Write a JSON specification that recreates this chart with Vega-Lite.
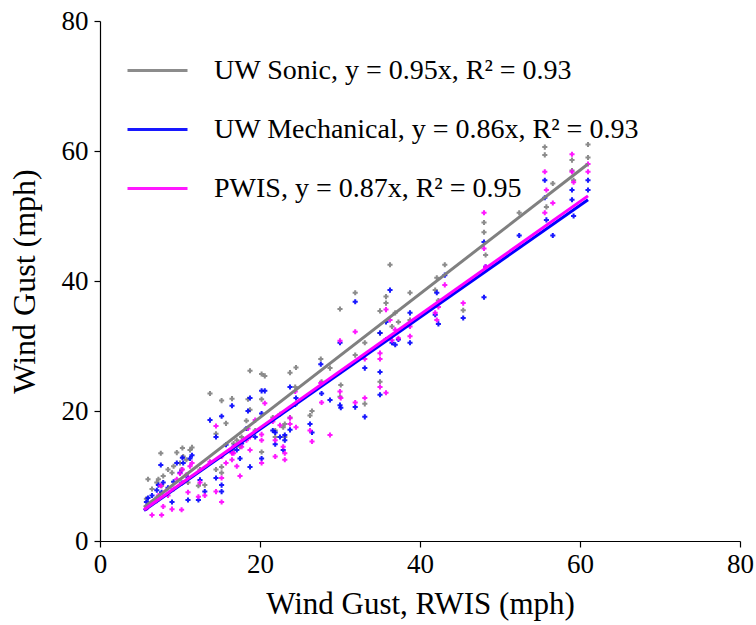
{
"$schema": "https://vega.github.io/schema/vega-lite/v6.json",
"width": 640, "height": 520,
"autosize": {"type": "none"},
"padding": {"left": 100, "top": 21, "right": 16, "bottom": 84},
"config": {
 "font": "Liberation Serif",
 "view": {"stroke": null}
},
"datasets": {
"points": [
{"series":"Sonic","x":5.8,"y":6.5},{"series":"Sonic","x":6.0,"y":9.5},{"series":"Sonic","x":6.5,"y":8.0},{"series":"Sonic","x":7.1,"y":9.0},{"series":"Sonic","x":7.3,"y":9.5},{"series":"Sonic","x":7.6,"y":13.5},{"series":"Sonic","x":7.7,"y":8.5},{"series":"Sonic","x":7.9,"y":10.0},{"series":"Sonic","x":8.5,"y":11.0},{"series":"Sonic","x":9.0,"y":10.5},{"series":"Sonic","x":9.2,"y":11.5},{"series":"Sonic","x":9.6,"y":13.6},{"series":"Sonic","x":10.0,"y":12.0},{"series":"Sonic","x":10.2,"y":11.0},{"series":"Sonic","x":10.3,"y":14.3},{"series":"Sonic","x":10.4,"y":13.0},{"series":"Sonic","x":10.8,"y":12.5},{"series":"Sonic","x":11.0,"y":9.0},{"series":"Sonic","x":11.25,"y":14.0},{"series":"Sonic","x":11.5,"y":14.4},{"series":"Sonic","x":12.3,"y":8.5},{"series":"Sonic","x":12.5,"y":11.0},{"series":"Sonic","x":13.1,"y":8.6},{"series":"Sonic","x":13.75,"y":22.7},{"series":"Sonic","x":14.5,"y":11.0},{"series":"Sonic","x":14.5,"y":16.5},{"series":"Sonic","x":15.2,"y":21.6},{"series":"Sonic","x":15.2,"y":11.4},{"series":"Sonic","x":15.2,"y":10.5},{"series":"Sonic","x":15.75,"y":18.1},{"series":"Sonic","x":16.5,"y":21.9},{"series":"Sonic","x":16.5,"y":14.0},{"series":"Sonic","x":16.7,"y":15.0},{"series":"Sonic","x":17.1,"y":15.5},{"series":"Sonic","x":17.5,"y":14.5},{"series":"Sonic","x":17.7,"y":16.0},{"series":"Sonic","x":18.3,"y":18.5},{"series":"Sonic","x":18.5,"y":21.8},{"series":"Sonic","x":18.75,"y":26.2},{"series":"Sonic","x":18.75,"y":20.2},{"series":"Sonic","x":19.4,"y":17.0},{"series":"Sonic","x":20.2,"y":25.7},{"series":"Sonic","x":20.2,"y":21.8},{"series":"Sonic","x":20.2,"y":13.7},{"series":"Sonic","x":20.6,"y":25.4},{"series":"Sonic","x":21.6,"y":19.0},{"series":"Sonic","x":21.9,"y":17.0},{"series":"Sonic","x":21.9,"y":16.0},{"series":"Sonic","x":22.5,"y":19.5},{"series":"Sonic","x":22.9,"y":17.5},{"series":"Sonic","x":23.1,"y":18.0},{"series":"Sonic","x":23.1,"y":16.0},{"series":"Sonic","x":23.75,"y":25.9},{"series":"Sonic","x":23.75,"y":19.0},{"series":"Sonic","x":24.4,"y":23.7},{"series":"Sonic","x":24.5,"y":26.7},{"series":"Sonic","x":26.25,"y":19.3},{"series":"Sonic","x":26.5,"y":20.0},{"series":"Sonic","x":27.6,"y":28.0},{"series":"Sonic","x":27.7,"y":24.5},{"series":"Sonic","x":28.75,"y":26.6},{"series":"Sonic","x":30.0,"y":35.7},{"series":"Sonic","x":30.0,"y":22.2},{"series":"Sonic","x":30.1,"y":24.0},{"series":"Sonic","x":31.9,"y":38.2},{"series":"Sonic","x":31.9,"y":28.6},{"series":"Sonic","x":33.1,"y":30.5},{"series":"Sonic","x":33.1,"y":21.1},{"series":"Sonic","x":35.0,"y":35.4},{"series":"Sonic","x":35.0,"y":32.0},{"series":"Sonic","x":35.0,"y":24.5},{"series":"Sonic","x":35.75,"y":37.6},{"series":"Sonic","x":35.75,"y":36.6},{"series":"Sonic","x":36.25,"y":42.5},{"series":"Sonic","x":36.5,"y":33.0},{"series":"Sonic","x":36.9,"y":35.1},{"series":"Sonic","x":37.3,"y":33.7},{"series":"Sonic","x":38.75,"y":38.2},{"series":"Sonic","x":38.75,"y":34.0},{"series":"Sonic","x":41.9,"y":38.6},{"series":"Sonic","x":42.1,"y":40.5},{"series":"Sonic","x":42.3,"y":37.0},{"series":"Sonic","x":43.1,"y":42.5},{"series":"Sonic","x":45.4,"y":35.5},{"series":"Sonic","x":48.0,"y":49.0},{"series":"Sonic","x":48.0,"y":47.5},{"series":"Sonic","x":48.2,"y":44.0},{"series":"Sonic","x":52.4,"y":50.5},{"series":"Sonic","x":55.6,"y":60.6},{"series":"Sonic","x":55.6,"y":59.4},{"series":"Sonic","x":55.8,"y":51.4},{"series":"Sonic","x":56.6,"y":55.0},{"series":"Sonic","x":59.0,"y":58.6},{"series":"Sonic","x":59.0,"y":57.0},{"series":"Sonic","x":59.2,"y":55.5},{"series":"Sonic","x":61.0,"y":61.0},{"series":"Sonic","x":61.0,"y":59.0},
{"series":"Mechanical","x":5.8,"y":6.0},{"series":"Mechanical","x":6.0,"y":6.6},{"series":"Mechanical","x":6.5,"y":7.0},{"series":"Mechanical","x":7.1,"y":7.8},{"series":"Mechanical","x":7.3,"y":8.6},{"series":"Mechanical","x":7.6,"y":11.7},{"series":"Mechanical","x":7.7,"y":7.5},{"series":"Mechanical","x":7.9,"y":9.0},{"series":"Mechanical","x":8.5,"y":8.2},{"series":"Mechanical","x":9.0,"y":6.0},{"series":"Mechanical","x":9.2,"y":9.1},{"series":"Mechanical","x":9.6,"y":12.0},{"series":"Mechanical","x":10.0,"y":10.5},{"series":"Mechanical","x":10.2,"y":8.9},{"series":"Mechanical","x":10.3,"y":12.8},{"series":"Mechanical","x":10.4,"y":12.0},{"series":"Mechanical","x":10.8,"y":10.0},{"series":"Mechanical","x":11.0,"y":6.3},{"series":"Mechanical","x":11.25,"y":12.7},{"series":"Mechanical","x":11.5,"y":13.2},{"series":"Mechanical","x":12.3,"y":6.3},{"series":"Mechanical","x":12.5,"y":9.4},{"series":"Mechanical","x":13.1,"y":7.6},{"series":"Mechanical","x":13.75,"y":18.6},{"series":"Mechanical","x":14.5,"y":9.7},{"series":"Mechanical","x":14.5,"y":16.0},{"series":"Mechanical","x":15.2,"y":19.2},{"series":"Mechanical","x":15.2,"y":8.6},{"series":"Mechanical","x":15.2,"y":7.6},{"series":"Mechanical","x":15.75,"y":14.8},{"series":"Mechanical","x":16.5,"y":20.8},{"series":"Mechanical","x":16.5,"y":13.7},{"series":"Mechanical","x":16.7,"y":14.5},{"series":"Mechanical","x":17.1,"y":14.0},{"series":"Mechanical","x":17.5,"y":12.7},{"series":"Mechanical","x":17.7,"y":15.0},{"series":"Mechanical","x":18.3,"y":17.3},{"series":"Mechanical","x":18.5,"y":20.0},{"series":"Mechanical","x":18.75,"y":22.0},{"series":"Mechanical","x":18.75,"y":11.4},{"series":"Mechanical","x":19.4,"y":16.0},{"series":"Mechanical","x":20.2,"y":23.1},{"series":"Mechanical","x":20.2,"y":19.6},{"series":"Mechanical","x":20.2,"y":12.7},{"series":"Mechanical","x":20.6,"y":23.1},{"series":"Mechanical","x":21.6,"y":17.0},{"series":"Mechanical","x":21.9,"y":16.7},{"series":"Mechanical","x":21.9,"y":14.9},{"series":"Mechanical","x":22.5,"y":16.0},{"series":"Mechanical","x":22.9,"y":14.0},{"series":"Mechanical","x":23.1,"y":16.3},{"series":"Mechanical","x":23.1,"y":15.5},{"series":"Mechanical","x":23.75,"y":23.7},{"series":"Mechanical","x":23.75,"y":17.1},{"series":"Mechanical","x":24.4,"y":21.0},{"series":"Mechanical","x":24.5,"y":22.0},{"series":"Mechanical","x":26.25,"y":18.0},{"series":"Mechanical","x":26.5,"y":16.7},{"series":"Mechanical","x":27.6,"y":27.2},{"series":"Mechanical","x":27.7,"y":22.7},{"series":"Mechanical","x":28.75,"y":21.7},{"series":"Mechanical","x":30.0,"y":30.5},{"series":"Mechanical","x":30.0,"y":20.9},{"series":"Mechanical","x":30.1,"y":20.5},{"series":"Mechanical","x":31.9,"y":36.8},{"series":"Mechanical","x":31.9,"y":20.6},{"series":"Mechanical","x":33.1,"y":26.6},{"series":"Mechanical","x":33.1,"y":19.1},{"series":"Mechanical","x":35.0,"y":32.0},{"series":"Mechanical","x":35.0,"y":22.5},{"series":"Mechanical","x":35.0,"y":26.0},{"series":"Mechanical","x":35.75,"y":33.7},{"series":"Mechanical","x":35.75,"y":31.0},{"series":"Mechanical","x":36.25,"y":38.6},{"series":"Mechanical","x":36.5,"y":30.5},{"series":"Mechanical","x":36.9,"y":30.2},{"series":"Mechanical","x":37.3,"y":31.0},{"series":"Mechanical","x":38.75,"y":35.1},{"series":"Mechanical","x":38.75,"y":30.5},{"series":"Mechanical","x":41.9,"y":34.8},{"series":"Mechanical","x":42.1,"y":38.2},{"series":"Mechanical","x":42.3,"y":33.4},{"series":"Mechanical","x":43.1,"y":40.9},{"series":"Mechanical","x":45.4,"y":34.3},{"series":"Mechanical","x":48.0,"y":46.0},{"series":"Mechanical","x":48.0,"y":37.5},{"series":"Mechanical","x":48.2,"y":42.2},{"series":"Mechanical","x":52.4,"y":47.0},{"series":"Mechanical","x":55.6,"y":55.5},{"series":"Mechanical","x":55.6,"y":52.8},{"series":"Mechanical","x":55.8,"y":49.4},{"series":"Mechanical","x":56.6,"y":47.0},{"series":"Mechanical","x":59.0,"y":54.0},{"series":"Mechanical","x":59.0,"y":52.5},{"series":"Mechanical","x":59.2,"y":50.0},{"series":"Mechanical","x":61.0,"y":55.5},{"series":"Mechanical","x":61.0,"y":54.0},
{"series":"PWIS","x":5.8,"y":5.0},{"series":"PWIS","x":6.0,"y":5.5},{"series":"PWIS","x":6.5,"y":4.0},{"series":"PWIS","x":7.1,"y":6.2},{"series":"PWIS","x":7.3,"y":7.0},{"series":"PWIS","x":7.6,"y":8.5},{"series":"PWIS","x":7.7,"y":4.0},{"series":"PWIS","x":7.9,"y":5.3},{"series":"PWIS","x":8.5,"y":7.0},{"series":"PWIS","x":9.0,"y":4.9},{"series":"PWIS","x":9.2,"y":8.0},{"series":"PWIS","x":9.6,"y":9.5},{"series":"PWIS","x":10.0,"y":10.4},{"series":"PWIS","x":10.2,"y":4.8},{"series":"PWIS","x":10.3,"y":11.0},{"series":"PWIS","x":10.4,"y":9.0},{"series":"PWIS","x":10.8,"y":10.2},{"series":"PWIS","x":11.0,"y":7.5},{"series":"PWIS","x":11.25,"y":11.5},{"series":"PWIS","x":11.5,"y":12.0},{"series":"PWIS","x":12.3,"y":6.8},{"series":"PWIS","x":12.5,"y":9.0},{"series":"PWIS","x":13.1,"y":7.0},{"series":"PWIS","x":13.75,"y":12.2},{"series":"PWIS","x":14.5,"y":7.6},{"series":"PWIS","x":14.5,"y":17.7},{"series":"PWIS","x":15.2,"y":13.0},{"series":"PWIS","x":15.2,"y":6.0},{"series":"PWIS","x":15.2,"y":9.7},{"series":"PWIS","x":15.75,"y":12.0},{"series":"PWIS","x":16.5,"y":13.5},{"series":"PWIS","x":16.5,"y":12.5},{"series":"PWIS","x":16.7,"y":13.5},{"series":"PWIS","x":17.1,"y":11.5},{"series":"PWIS","x":17.5,"y":10.0},{"series":"PWIS","x":17.7,"y":14.5},{"series":"PWIS","x":18.3,"y":15.5},{"series":"PWIS","x":18.5,"y":17.3},{"series":"PWIS","x":18.75,"y":14.0},{"series":"PWIS","x":18.75,"y":16.0},{"series":"PWIS","x":19.4,"y":18.6},{"series":"PWIS","x":20.2,"y":16.4},{"series":"PWIS","x":20.2,"y":15.5},{"series":"PWIS","x":20.2,"y":12.0},{"series":"PWIS","x":20.6,"y":21.2},{"series":"PWIS","x":21.6,"y":18.4},{"series":"PWIS","x":21.9,"y":15.5},{"series":"PWIS","x":21.9,"y":13.0},{"series":"PWIS","x":22.5,"y":17.8},{"series":"PWIS","x":22.9,"y":14.5},{"series":"PWIS","x":23.1,"y":13.5},{"series":"PWIS","x":23.1,"y":12.5},{"series":"PWIS","x":23.75,"y":18.9},{"series":"PWIS","x":23.75,"y":18.0},{"series":"PWIS","x":24.4,"y":23.0},{"series":"PWIS","x":24.5,"y":17.5},{"series":"PWIS","x":26.25,"y":17.0},{"series":"PWIS","x":26.5,"y":15.3},{"series":"PWIS","x":27.6,"y":24.3},{"series":"PWIS","x":27.7,"y":21.3},{"series":"PWIS","x":28.75,"y":16.3},{"series":"PWIS","x":30.0,"y":30.8},{"series":"PWIS","x":30.0,"y":23.0},{"series":"PWIS","x":30.1,"y":22.0},{"series":"PWIS","x":31.9,"y":32.2},{"series":"PWIS","x":31.9,"y":21.3},{"series":"PWIS","x":33.1,"y":28.0},{"series":"PWIS","x":33.1,"y":22.0},{"series":"PWIS","x":35.0,"y":28.9},{"series":"PWIS","x":35.0,"y":28.0},{"series":"PWIS","x":35.0,"y":23.7},{"series":"PWIS","x":35.75,"y":35.6},{"series":"PWIS","x":35.75,"y":22.8},{"series":"PWIS","x":36.25,"y":34.0},{"series":"PWIS","x":36.5,"y":30.9},{"series":"PWIS","x":36.9,"y":32.5},{"series":"PWIS","x":37.3,"y":31.2},{"series":"PWIS","x":38.75,"y":33.0},{"series":"PWIS","x":38.75,"y":31.5},{"series":"PWIS","x":41.9,"y":35.1},{"series":"PWIS","x":42.1,"y":34.0},{"series":"PWIS","x":42.3,"y":36.0},{"series":"PWIS","x":43.1,"y":39.4},{"series":"PWIS","x":45.4,"y":36.6},{"series":"PWIS","x":48.0,"y":50.5},{"series":"PWIS","x":48.0,"y":45.0},{"series":"PWIS","x":48.2,"y":42.2},{"series":"PWIS","x":52.4,"y":45.3},{"series":"PWIS","x":55.6,"y":56.8},{"series":"PWIS","x":55.6,"y":50.5},{"series":"PWIS","x":55.8,"y":54.0},{"series":"PWIS","x":56.6,"y":52.0},{"series":"PWIS","x":59.0,"y":59.5},{"series":"PWIS","x":59.0,"y":56.8},{"series":"PWIS","x":59.2,"y":55.2},{"series":"PWIS","x":61.0,"y":58.0},{"series":"PWIS","x":61.0,"y":56.8}
],
"fits": [
{"series":"Sonic","x":5.5,"y":5.2},{"series":"Sonic","x":61,"y":58.0},
{"series":"Mechanical","x":5.5,"y":4.7},{"series":"Mechanical","x":61,"y":52.5},
{"series":"PWIS","x":5.5,"y":4.8},{"series":"PWIS","x":61,"y":53.1}
]
},
"layer": [
{"data": {"name": "points"},
 "mark": {"type": "point", "shape": "cross", "filled": true, "size": 26, "opacity": 0.9},
 "encoding": {
  "x": {"field": "x", "type": "quantitative", "scale": {"domain": [0, 80], "nice": false},
   "axis": {"values": [0, 20, 40, 60, 80], "title": "Wind Gust, RWIS (mph)", "grid": false, "domainColor": "black", "domainWidth": 1.2, "tickColor": "black", "tickSize": 6, "tickWidth": 1.2, "labelFont": "Liberation Serif", "labelFontSize": 27, "labelColor": "black", "labelFlush": false, "labelOverlap": false, "labelPadding": 4, "titleFont": "Liberation Serif", "titleFontSize": 31, "titleFontWeight": "normal", "titleColor": "black", "titlePadding": 12}},
  "y": {"field": "y", "type": "quantitative", "scale": {"domain": [0, 80], "nice": false},
   "axis": {"values": [0, 20, 40, 60, 80], "title": "Wind Gust (mph)", "grid": false, "domainColor": "black", "domainWidth": 1.2, "tickColor": "black", "tickSize": 6, "tickWidth": 1.2, "labelFont": "Liberation Serif", "labelFontSize": 27, "labelColor": "black", "labelFlush": false, "labelOverlap": false, "labelPadding": 6, "titleFont": "Liberation Serif", "titleFontSize": 32, "titleFontWeight": "normal", "titleColor": "black", "titlePadding": 20}},
  "color": {"field": "series", "type": "nominal", "scale": {"domain": ["Sonic", "Mechanical", "PWIS"], "range": ["#808080", "#0000ff", "#ff00ff"]}}
 }},
{"data": {"name": "fits"},
 "mark": {"type": "line", "strokeWidth": 3},
 "encoding": {
  "x": {"field": "x", "type": "quantitative"},
  "y": {"field": "y", "type": "quantitative"},
  "color": {"field": "series", "type": "nominal", "scale": {"domain": ["Sonic", "Mechanical", "PWIS"], "range": ["#808080", "#0000ff", "#ff00ff"]},
   "legend": {"orient": "none", "legendX": 26, "legendY": 18, "title": null, "symbolType": "stroke", "symbolSize": 3600, "symbolStrokeWidth": 3, "labelFontSize": 28, "labelFont": "Liberation Serif", "labelColor": "black", "labelOffset": 25, "rowPadding": 13, "labelLimit": 600,
   "labelExpr": "datum.value == 'Sonic' ? 'UW Sonic, y = 0.95x, R² = 0.93' : datum.value == 'Mechanical' ? 'UW Mechanical, y = 0.86x, R² = 0.93' : 'PWIS, y = 0.87x, R² = 0.95'"}}
 }}
]
}
